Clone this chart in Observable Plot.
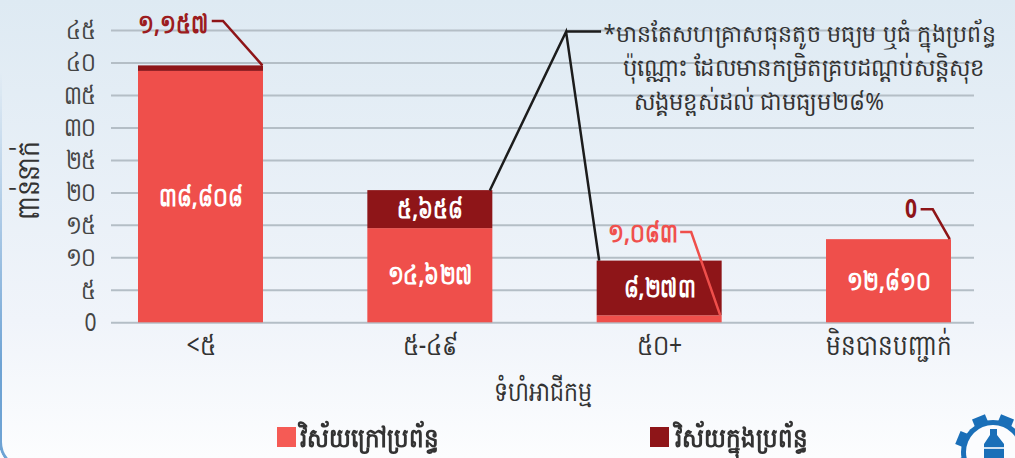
<!DOCTYPE html>
<html><head><meta charset="utf-8">
<script src="https://cdn.jsdelivr.net/npm/d3@7"></script>
<script src="https://cdn.jsdelivr.net/npm/@observablehq/plot@0.6"></script>
<style>
html,body{margin:0;padding:0}
body{width:1015px;height:458px;overflow:hidden;background:linear-gradient(#deeaf3,#f0f4fa 70%,#fcfdfe);font-family:"Noto Sans","DejaVu Sans",sans-serif;position:relative}
#frame{position:absolute;left:-1px;top:-60px;width:1060px;height:530px;border:3px solid #6ea3d4;border-radius:28px;box-sizing:border-box;pointer-events:none;-webkit-mask-image:linear-gradient(transparent 25%,#000 80%);mask-image:linear-gradient(transparent 25%,#000 80%)}
#chart{position:absolute;left:0;top:0}
#legend{position:absolute;left:0;top:416px;width:1015px;height:42px;font-size:23px;color:#333;font-weight:600}
#legend span{position:absolute;top:6px;white-space:nowrap;line-height:30px;transform:scaleY(1.15);transform-origin:center}
#legend i{position:absolute;top:11px;width:19px;height:20px}
#icon{position:absolute;left:945px;top:405px}
</style></head><body>
<div id="frame"></div>
<div id="chart"></div>
<div id="legend"></div>
<svg id="icon" width="70" height="53" viewBox="945 405 70 53"></svg>
<script>
const categories = ["<៥","៥-៤៩","៥០+","មិនបានបញ្ជាក់"];
const outsideValues = [38.7,14.5,1.08,12.8];
const insideValues = [0.85,5.85,8.42,0];
const seriesNames = ["វិស័យក្រៅប្រព័ន្ធ","វិស័យក្នុងប្រព័ន្ធ"];
const seriesColors = ["#ef4f4b","#8e1518"];
const yTickValues = [0,5,10,15,20,25,30,35,40,45];
const yTickLabels = ["0","៥","១០","១៥","២០","២៥","៣០","៣៥","៤០","៤៥"];
const yTitle = "ពាន់នាក់";
const xTitle = "ទំហំអាជីកម្ម";
const noteLines = ["*មានតែសហគ្រាសធុនតូច មធ្យម ឬធំ ក្នុងប្រព័ន្ធ","ប៉ុណ្ណោះ ដែលមានកម្រិតគ្របដណ្តប់សន្តិសុខ","សង្គមខ្ពស់ដល់ ជាមធ្យម២៨%"];
const outsideLabels = ["៣៨,៨០៨","១៤,៦២៧","","១២,៨១០"];
const insideLabels = ["","៥,៦៥៨","៨,២៧៣",""];
// leader lines: [category index, fraction across its band, y value]
const leaderDarkA = [[0,.59,46.4],[0,.68,46.4],[0,.995,39.55]];
const leaderBlackA = [[1,.98,20.3],[1,1.59,44.75],[2,.02,9.5]];
const leaderBlackB = [[1,1.59,44.75],[1,1.87,44.75]];
const leaderRed = [[2,.668,13.9],[2,.756,13.9],[2,.988,1.1]];
const leaderDarkB = [[3,.757,17.4],[3,.854,17.4],[3,.99,12.8]];
const calloutLabels = [
  {cat:categories[0],y:45.9,text:"១,១៥៧",fill:"#9c1c20",dx:7.5},
  {cat:categories[2],y:13.75,text:"១,០៨៣",fill:"#f0504d",dx:18},
  {cat:categories[3],y:17.4,text:"0",fill:"#8e1518",dx:28}
];

const rows = [];
categories.forEach((c,i)=>{
  rows.push({cat:c,series:seriesNames[0],value:outsideValues[i]});
  rows.push({cat:c,series:seriesNames[1],value:insideValues[i]});
});
const labelRows = categories.map((c,i)=>({cat:c,o:outsideValues[i],n:insideValues[i],ol:outsideLabels[i],nl:insideLabels[i]}));

const leader = (pts,color,w) => (index,{x,y}) => {
  const bw = x.bandwidth();
  const line = d3.line().x(p=>x(categories[p[0]])+p[1]*bw).y(p=>y(p[2]));
  return d3.create("svg:path").attr("d",line(pts)).attr("fill","none").attr("stroke",color).attr("stroke-width",w).attr("stroke-linejoin","miter").node();
};

const chart = Plot.plot({
  width:1015,height:416,
  marginLeft:111,marginRight:41,marginTop:0,marginBottom:94,
  style:{background:"transparent",fontFamily:'"Noto Sans","DejaVu Sans",sans-serif'},
  x:{domain:categories,range:[138,951],paddingInner:0.455,paddingOuter:0,round:false,label:null},
  y:{domain:[0,45],range:[322.3,30],label:null},
  color:{domain:seriesNames,range:seriesColors},
  marks:[
    Plot.ruleY(yTickValues,{stroke:"#b4bec6",strokeWidth:2}),
    Plot.barY(rows,{x:"cat",y:"value",fill:"series",order:seriesNames}),
    Plot.axisY({ticks:yTickValues,tickSize:0,tickPadding:0,tickFormat:d=>yTickLabels[yTickValues.indexOf(d)],fontSize:21,fill:"#444",label:null,dx:-15}),
    Plot.axisX({tickSize:0,tickPadding:12,fontSize:23,fill:"#333",label:null}),
    Plot.text(labelRows.filter(d=>d.ol),{x:"cat",y:d=>d.o/2,text:"ol",fill:"#fff",fontWeight:"bold",fontSize:21}),
    Plot.text(labelRows.filter(d=>d.nl),{x:"cat",y:d=>d.o+d.n/2,text:"nl",fill:"#fff",fontWeight:"bold",fontSize:21}),
    leader(leaderBlackA,"#1c1c1c",2.5),
    leader(leaderBlackB,"#1c1c1c",2.5),
    leader(leaderDarkA,"#8e1518",2.5),
    leader(leaderRed,"#ef4f4b",2.5),
    leader(leaderDarkB,"#8e1518",2.5),
    ...calloutLabels.map(d=>Plot.text([d],{x:"cat",y:"y",text:"text",fill:d.fill,dx:d.dx,textAnchor:"end",fontWeight:"bold",fontSize:21})),
    Plot.text([yTitle],{frameAnchor:"left",dx:-83,y:()=>21.9,rotate:-90,textAnchor:"middle",fontSize:25,fill:"#333"}),
    Plot.text([xTitle],{frameAnchor:"bottom",dy:70,lineAnchor:"middle",fontSize:22,fill:"#333"}),
    Plot.text([noteLines[0]],{frameAnchor:"top-left",dx:492,dy:34,lineAnchor:"middle",fontSize:22,fill:"#333"}),
    Plot.text([noteLines[1]],{frameAnchor:"top-left",dx:511,dy:68,lineAnchor:"middle",fontSize:22.6,fill:"#333"}),
    Plot.text([noteLines[2]],{frameAnchor:"top-left",dx:522,dy:102,lineAnchor:"middle",fontSize:22.6,fill:"#333"}),
  ]
});
chart.querySelectorAll("text").forEach(t=>{
  const s = noteLines.includes(t.textContent) ? 1.08 : 1.25;
  t.setAttribute("transform",(t.getAttribute("transform")||"")+` scale(1,${s})`);
});
document.getElementById("chart").append(chart);
const leg=document.getElementById("legend");
[[277,"#f55b55",seriesNames[0],300],[650,seriesColors[1],seriesNames[1],675]].forEach(([x,c,t,tx])=>{
  leg.insertAdjacentHTML("beforeend",`<i style="left:${x}px;background:${c}"></i><span style="left:${tx}px">${t}</span>`);
});
// logo decoration
const ic=d3.select("#icon");
const gear=ic.append("g").attr("fill","#1a6fb8");
d3.range(8).forEach(i=>gear.append("rect").attr("x",993-7).attr("y",452-38).attr("width",14).attr("height",12).attr("transform",`rotate(${22.5+45*i} 993 452)`));
gear.append("circle").attr("cx",993).attr("cy",452).attr("r",32);
ic.append("circle").attr("cx",993).attr("cy",452).attr("r",27).attr("fill","#fbfcfe");
ic.append("path").attr("fill","#1a6fb8").attr("d","M990 429h7v6l7 9v14h-20v-14l6-9z");
ic.append("rect").attr("x",984).attr("y",447).attr("width",20).attr("height",2).attr("fill","#cfe0f0");
</script></body></html>
